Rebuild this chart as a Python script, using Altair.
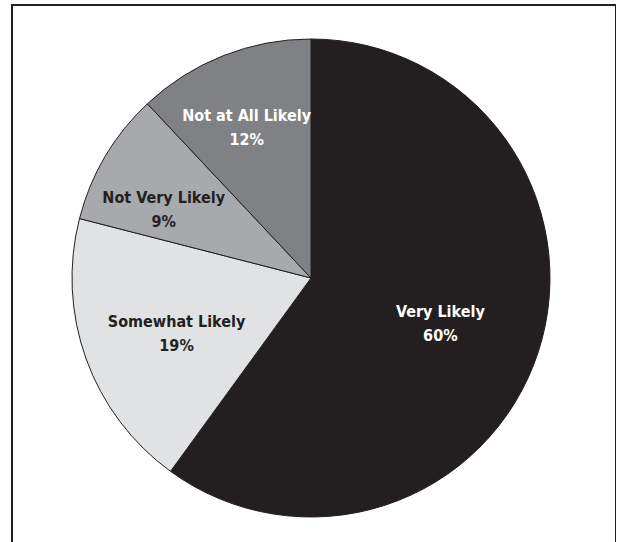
import altair as alt
import pandas as pd

categories = ["Very Likely", "Somewhat Likely", "Not Very Likely", "Not at All Likely"]
values = [60, 19, 9, 12]
pct_labels = ["60%", "19%", "9%", "12%"]
slice_colors = ["#231f20", "#e1e2e3", "#a7a9ac", "#808184"]

df = pd.DataFrame({
    "category": categories,
    "value": values,
    "pct": pct_labels,
    "idx": list(range(len(categories))),
})
df["label"] = df["category"] + "\n" + df["pct"]

CX, CY, R = 299, 273, 239
FONT = "DejaVu Sans Condensed, Liberation Sans Narrow, sans-serif"

base = alt.Chart(df)

pie = base.mark_arc(outerRadius=R, stroke="#231f20", strokeWidth=1).encode(
    theta=alt.Theta("value:Q", stack=True),
    order=alt.Order("idx:Q"),
    color=alt.Color("category:N",
                    scale=alt.Scale(domain=categories, range=slice_colors),
                    legend=None),
    x=alt.value(CX),
    y=alt.value(CY),
)


def label_layer(cat, radius, color, dx, dy):
    return base.transform_window(
        cum="sum(value)", sort=[{"field": "idx"}], frame=[None, 0]
    ).transform_calculate(
        mid="datum.cum - datum.value / 2"
    ).transform_filter(
        alt.datum.category == cat
    ).mark_text(
        radius=radius, font=FONT, fontSize=16, fontWeight="bold",
        lineBreak="\n", lineHeight=24, align="center", baseline="middle",
        color=color, dx=dx, dy=dy,
    ).encode(
        theta=alt.Theta("mid:Q", scale=alt.Scale(domain=[0, 100], range=[0, 6.283185307])),
        text="label:N",
        x=alt.value(CX),
        y=alt.value(CY),
    )


chart = alt.layer(
    pie,
    label_layer("Very Likely", 136, "white", 0, -8),
    label_layer("Somewhat Likely", 145, "#231f20", 2, -5),
    label_layer("Not Very Likely", 163, "#231f20", -7, 3),
    label_layer("Not at All Likely", 164, "white", -4, -10),
).properties(
    width=604, height=580,
    autosize=alt.AutoSizeParams(type="none"),
    padding={"left": 12, "top": 5, "right": 0, "bottom": 0},
    background="white",
).configure_view(stroke="#231f20", strokeWidth=2)

chart.save("out.html", embed_options={"renderer": "svg", "actions": False})
